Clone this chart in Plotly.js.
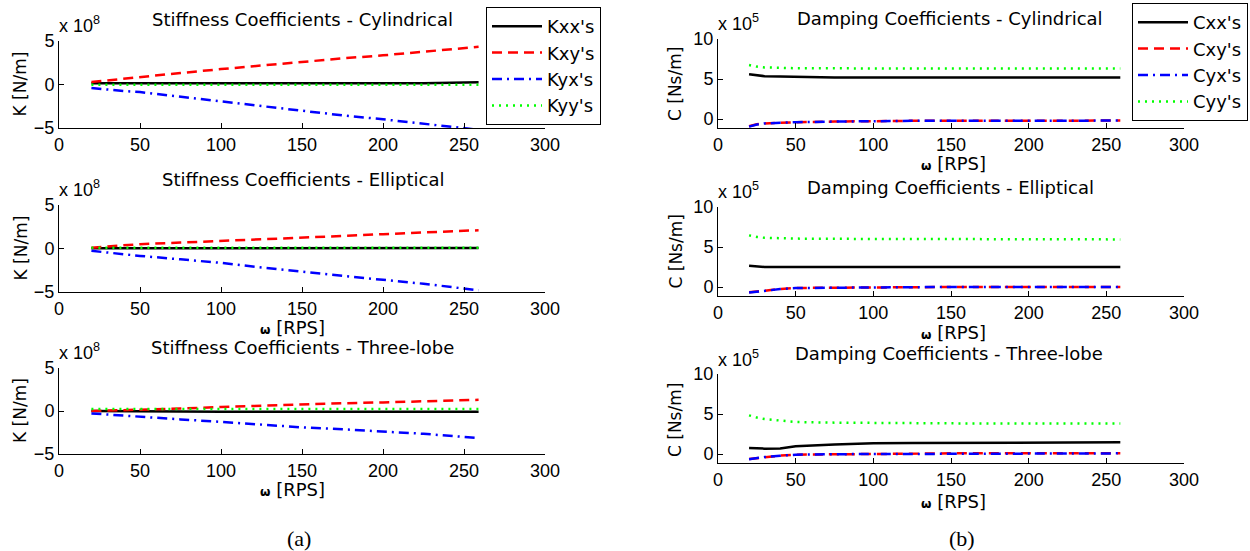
<!DOCTYPE html>
<html>
<head>
<meta charset="utf-8">
<script src="https://cdn.plot.ly/plotly-3.0.1.min.js"></script>
<style>html,body{margin:0;padding:0;background:#fff;}#chart{width:1250px;height:551px;}</style>
</head>
<body>
<div id="chart"></div>
<script>
// ---- data ----
const omega = [20, 25, 30, 40, 50, 75, 100, 125, 150, 175, 200, 225, 259];

// Stiffness (x 10^8 N/m)
const cylKxx = [0.15, 0.15, 0.15, 0.15, 0.15, 0.15, 0.15, 0.15, 0.15, 0.15, 0.15, 0.15, 0.25];
const cylKxy = [0.28, 0.38, 0.5, 0.68, 0.87, 1.32, 1.77, 2.2, 2.64, 3.0, 3.35, 3.8, 4.33];
const cylKyx = [-0.4, -0.5, -0.62, -0.75, -0.87, -1.42, -1.97, -2.52, -3.07, -3.55, -4.0, -4.5, -5.2];
const cylKyy = [-0.02, -0.02, -0.02, -0.02, -0.02, -0.02, -0.02, -0.02, -0.02, -0.02, -0.02, -0.02, -0.02];

const ellKxx = [0.02, 0.02, 0.02, 0.02, 0.02, 0.02, 0.02, 0.02, 0.02, 0.02, 0.02, 0.02, 0.05];
const ellKxy = [0.1, 0.18, 0.25, 0.38, 0.5, 0.68, 0.85, 1.04, 1.23, 1.44, 1.65, 1.85, 2.1];
const ellKyx = [-0.27, -0.37, -0.46, -0.66, -0.85, -1.25, -1.65, -2.18, -2.7, -3.15, -3.6, -4.05, -4.8];
const ellKyy = [0.08, 0.08, 0.08, 0.08, 0.08, 0.08, 0.08, 0.08, 0.08, 0.08, 0.08, 0.08, 0.08];

const triKxx = [0.0, 0.0, 0.0, 0.0, 0.0, -0.05, -0.1, -0.1, -0.1, -0.1, -0.1, -0.1, -0.1];
const triKxy = [0.0, 0.02, 0.04, 0.07, 0.1, 0.28, 0.47, 0.64, 0.8, 0.9, 1.0, 1.12, 1.3];
const triKyx = [-0.28, -0.35, -0.42, -0.56, -0.7, -0.98, -1.26, -1.58, -1.9, -2.13, -2.36, -2.65, -3.15];
const triKyy = [0.22, 0.22, 0.22, 0.22, 0.22, 0.22, 0.22, 0.22, 0.22, 0.22, 0.22, 0.22, 0.22];

// Damping (x 10^5 Ns/m)
const cylCxx = [5.6, 5.5, 5.35, 5.3, 5.25, 5.2, 5.2, 5.2, 5.2, 5.2, 5.2, 5.2, 5.2];
const cylCxy = [-0.9, -0.65, -0.55, -0.45, -0.4, -0.32, -0.25, -0.23, -0.22, -0.21, -0.2, -0.2, -0.2];
const cylCyx = [-0.95, -0.7, -0.55, -0.45, -0.4, -0.32, -0.25, -0.23, -0.22, -0.21, -0.2, -0.2, -0.2];
const cylCyy = [6.75, 6.55, 6.45, 6.4, 6.35, 6.33, 6.32, 6.31, 6.3, 6.3, 6.3, 6.3, 6.3];

const ellCxx = [2.67, 2.6, 2.5, 2.5, 2.5, 2.5, 2.5, 2.5, 2.5, 2.5, 2.5, 2.5, 2.5];
const ellCxy = [-0.67, -0.55, -0.42, -0.25, -0.12, -0.07, -0.04, -0.02, 0.0, 0.0, 0.0, 0.0, 0.0];
const ellCyx = [-0.7, -0.57, -0.43, -0.26, -0.13, -0.07, -0.04, -0.02, 0.0, 0.0, 0.0, 0.0, 0.0];
const ellCyy = [6.45, 6.25, 6.15, 6.1, 6.05, 6.02, 6.0, 5.98, 5.97, 5.96, 5.96, 5.96, 5.95];

const triCxx = [0.75, 0.7, 0.67, 0.7, 0.96, 1.2, 1.33, 1.36, 1.38, 1.4, 1.42, 1.44, 1.46];
const triCxy = [-0.63, -0.5, -0.37, -0.2, -0.08, -0.02, 0.0, 0.03, 0.08, 0.08, 0.08, 0.08, 0.08];
const triCyx = [-0.66, -0.52, -0.38, -0.21, -0.09, -0.02, 0.0, 0.03, 0.08, 0.08, 0.08, 0.08, 0.08];
const triCyy = [4.83, 4.55, 4.37, 4.2, 4.0, 3.92, 3.87, 3.85, 3.83, 3.82, 3.81, 3.8, 3.8];

const kNames = ["Kxx's", "Kxy's", "Kyx's", "Kyy's"];
const cNames = ["Cxx's", "Cxy's", "Cyx's", "Cyy's"];
const xTicks = [0, 50, 100, 150, 200, 250, 300];
const kTicks = [-5, 0, 5];
const cTicks = [0, 5, 10];
const stiffTitles = ["Stiffness Coefficients - Cylindrical", "Stiffness Coefficients - Elliptical", "Stiffness Coefficients - Three-lobe"];
const dampTitles = ["Damping Coefficients - Cylindrical", "Damping Coefficients - Elliptical", "Damping Coefficients - Three-lobe"];

// ---- styles ----
const W = 1250, H = 551;
const px = v => v / W;
const py = v => 1 - v / H;
const styles = [
  {color: '#000000', dash: 'solid'},
  {color: '#ff0000', dash: '10px,6px'},
  {color: '#0000ff', dash: '10px,5px,2px,5px'},
  {color: '#00ff00', dash: '2px,5px'}
];

const stiffSets = [[cylKxx, cylKxy, cylKyx, cylKyy], [ellKxx, ellKxy, ellKyx, ellKyy], [triKxx, triKxy, triKyx, triKyy]];
const dampSets = [[cylCxx, cylCxy, cylCyx, cylCyy], [ellCxx, ellCxy, ellCyx, ellCyy], [triCxx, triCxy, triCyx, triCyy]];

const traces = [];
stiffSets.forEach((set, p) => {
  set.forEach((ys, i) => {
    traces.push({
      x: omega, y: ys, type: 'scatter', mode: 'lines',
      name: kNames[i], legend: 'legend', showlegend: p === 0,
      xaxis: 'x' + (p === 0 ? '' : p + 1), yaxis: 'y' + (p === 0 ? '' : p + 1),
      line: {color: styles[i].color, dash: styles[i].dash, width: 2.5}
    });
  });
});
dampSets.forEach((set, p) => {
  set.forEach((ys, i) => {
    traces.push({
      x: omega, y: ys, type: 'scatter', mode: 'lines',
      name: cNames[i], legend: 'legend2', showlegend: p === 0,
      xaxis: 'x' + (p + 4), yaxis: 'y' + (p + 4),
      line: {color: styles[i].color, dash: styles[i].dash, width: 2.5}
    });
  });
});

const tickFont = {family: 'Liberation Sans, Arial, sans-serif', size: 18, color: '#000'};
const txtFont = {family: 'DejaVu Sans, sans-serif', size: 18, color: '#000'};

function xax(dom, anchor) {
  return {domain: [px(dom[0]), px(dom[1])], anchor: anchor, range: [0, 300], tickvals: xTicks,
    ticks: 'inside', ticklen: 5, tickcolor: '#000', showline: true, linecolor: '#000', linewidth: 1,
    showgrid: false, zeroline: false, tickfont: tickFont, fixedrange: true};
}
function yax(dom, anchor, range, tv) {
  return {domain: [py(dom[1]), py(dom[0])], anchor: anchor, range: range, tickvals: tv,
    ticks: 'inside', ticklen: 5, tickcolor: '#000', showline: true, linecolor: '#000', linewidth: 1,
    showgrid: false, zeroline: false, tickfont: tickFont, fixedrange: true};
}

const leftX = [59, 545], rightX = [718, 1184];
const leftY = [[41, 128], [205, 292], [368, 454]];
const rightY = [[39, 128], [207, 296], [374, 463]];
const kRange = [-5, 5], cRange = [-1.125, 10];

const layout = {
  width: W, height: H, margin: {l: 0, r: 0, t: 0, b: 0},
  paper_bgcolor: '#fff', plot_bgcolor: 'rgba(0,0,0,0)',
  font: tickFont,
  xaxis: xax(leftX, 'y'), yaxis: yax(leftY[0], 'x', kRange, kTicks),
  xaxis2: xax(leftX, 'y2'), yaxis2: yax(leftY[1], 'x2', kRange, kTicks),
  xaxis3: xax(leftX, 'y3'), yaxis3: yax(leftY[2], 'x3', kRange, kTicks),
  xaxis4: xax(rightX, 'y4'), yaxis4: yax(rightY[0], 'x4', cRange, cTicks),
  xaxis5: xax(rightX, 'y5'), yaxis5: yax(rightY[1], 'x5', cRange, cTicks),
  xaxis6: xax(rightX, 'y6'), yaxis6: yax(rightY[2], 'x6', cRange, cTicks),
  legend: {x: px(486), y: py(7), xanchor: 'left', yanchor: 'top', bgcolor: '#fff',
    bordercolor: '#000', borderwidth: 1, font: txtFont, tracegroupgap: 0, itemwidth: 50},
  legend2: {x: px(1132), y: py(3), xanchor: 'left', yanchor: 'top', bgcolor: '#fff',
    bordercolor: '#000', borderwidth: 1, font: txtFont, tracegroupgap: 0, itemwidth: 50},
  annotations: [],
  showlegend: true
};

const ann = layout.annotations;
function addText(text, x, y, font, extra) {
  ann.push(Object.assign({text: text, x: px(x), y: py(y), xref: 'paper', yref: 'paper',
    showarrow: false, xanchor: 'center', yanchor: 'middle', font: font}, extra || {}));
}
const omegaTxt = '<span style="font-size:12px"><b>ω</b></span> [RPS]';
const expFont = {family: 'Liberation Sans, Arial, sans-serif', size: 18, color: '#000'};
const capFont = {family: 'Liberation Serif, Times New Roman, serif', size: 22, color: '#000'};
const yTitleFont = {family: 'DejaVu Sans, sans-serif', size: 17, color: '#000'};

// left column
[[302, 20], [303, 180], [302, 347]].forEach((p, i) => addText(stiffTitles[i], p[0], p[1], txtFont));
[84.5, 248.5, 411].forEach(c => addText('K [N/m]', 20, c, yTitleFont, {textangle: -90}));
[24, 188, 351].forEach(c => addText('x 10<sup>8</sup>', 57, c, expFont, {xanchor: 'left'}));
[327, 489].forEach(c => addText(omegaTxt, 292, c, txtFont));
// right column
[[950, 19], [950, 187], [949, 353]].forEach((p, i) => addText(dampTitles[i], p[0], p[1], txtFont));
[84, 251.5, 420].forEach(c => addText('C [Ns/m]', 675, c, yTitleFont, {textangle: -90}));
[23, 191, 358].forEach(c => addText('x 10<sup>5</sup>', 716, c, expFont, {xanchor: 'left'}));
[163, 332, 501].forEach(c => addText(omegaTxt, 953, c, txtFont));
// captions
addText('(a)', 299, 538, capFont);
addText('(b)', 962, 538, capFont);

Plotly.newPlot('chart', traces, layout, {displayModeBar: false, staticPlot: true});
</script>
</body>
</html>
